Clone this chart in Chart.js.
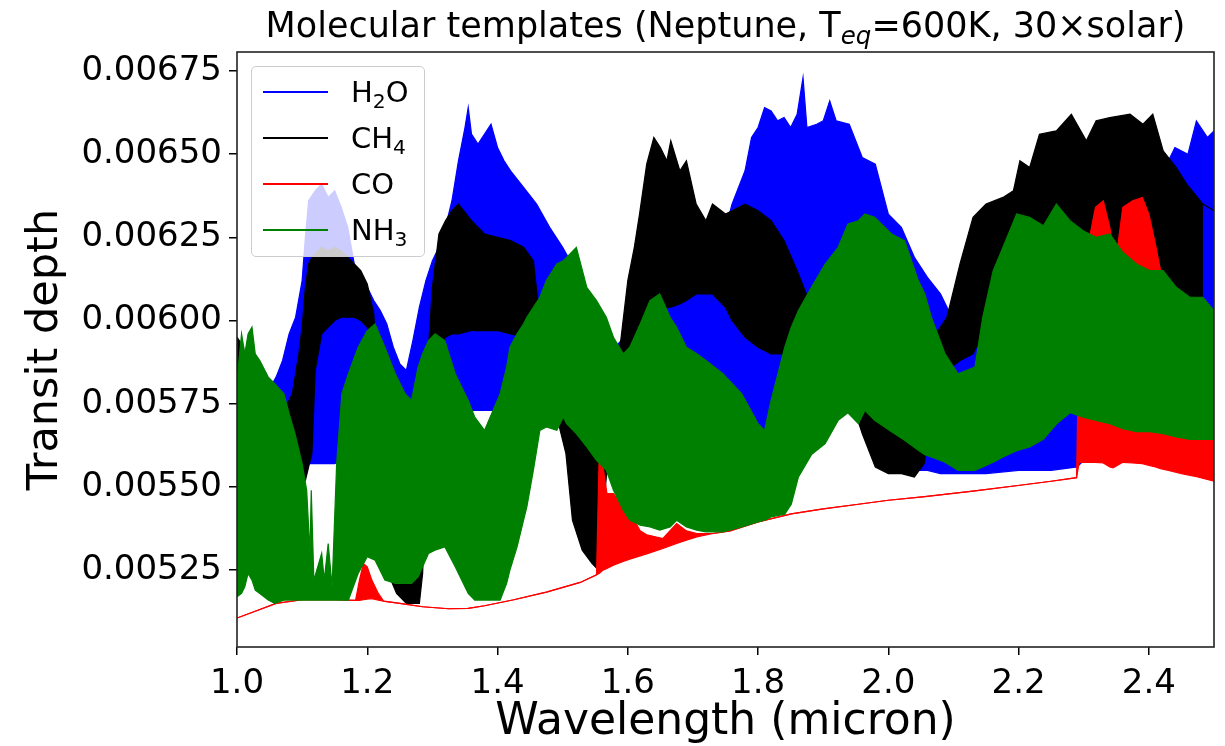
<!DOCTYPE html>
<html>
<head>
<meta charset="utf-8">
<script src="https://cdn.jsdelivr.net/npm/chart.js@4.4.1/dist/chart.umd.min.js"></script>
<style>
  html, body { margin: 0; padding: 0; background: #fff; }
  #wrap { position: relative; width: 1225px; height: 746px; overflow: hidden; font-family: 'DejaVu Sans', sans-serif; }
  #c { position: absolute; left: 0; top: 0; }
  #title { position: absolute; left: 237px; width: 977px; top: 5px; text-align: center; font-size: 35px; line-height: normal; color: #000; white-space: nowrap; }
  .sb { font-size: 0.7em; position: relative; top: 0.28em; }
  #legend { position: absolute; left: 251px; top: 66px; width: 174px; height: 191px; box-sizing: border-box;
            border: 1px solid #cccccc; border-radius: 5px; background: rgba(255,255,255,0.8); }
  .h { position: absolute; left: 11px; width: 65px; height: 2px; }
  .t { position: absolute; left: 99px; font-size: 29px; line-height: normal; color: #000; white-space: nowrap; }
</style>
</head>
<body>
<div id="wrap">
  <canvas id="c" width="1225" height="746"></canvas>
  <div id="title">Molecular templates (Neptune, T<span class="sb"><i>eq</i></span>=600K, 30×solar)</div>
  <div id="legend"></div>
</div>
<script>
// ---------------- data ----------------
const h2oWave = [1.000,1.010,1.020,1.040,1.060,1.070,1.080,1.090,1.100,1.105,1.110,1.120,1.130,1.140,1.150,1.160,1.170,1.180,1.190,1.200,1.210,1.220,1.230,1.240,1.250,1.260,1.270,1.280,1.290,1.300,1.310,1.320,1.330,1.340,1.350,1.355,1.360,1.370,1.380,1.390,1.400,1.410,1.420,1.440,1.460,1.480,1.500,1.520,1.540,1.560,1.580,1.600,1.620,1.660,1.700,1.720,1.740,1.760,1.780,1.790,1.800,1.810,1.820,1.830,1.840,1.850,1.860,1.869,1.875,1.890,1.900,1.910,1.920,1.940,1.960,1.980,2.000,2.020,2.040,2.060,2.080,2.100,2.150,2.200,2.250,2.290,2.300,2.320,2.340,2.360,2.400,2.430,2.440,2.460,2.473,2.490,2.500];
const h2oUpper = [0.00590,0.00585,0.00578,0.00576,0.00583,0.00588,0.00596,0.00601,0.00612,0.00625,0.00636,0.00639,0.00641,0.00637,0.00639,0.00634,0.00628,0.00617,0.00613,0.00610,0.00606,0.00603,0.00599,0.00592,0.00587,0.00585,0.00594,0.00604,0.00612,0.00618,0.00622,0.00628,0.00636,0.00648,0.00658,0.00664,0.00656,0.00653,0.00656,0.00659,0.00652,0.00648,0.00645,0.00640,0.00635,0.00628,0.00622,0.00615,0.00605,0.00598,0.00592,0.00596,0.00603,0.00607,0.00612,0.00614,0.00620,0.00635,0.00645,0.00655,0.00658,0.00664,0.00663,0.00660,0.00661,0.00658,0.00662,0.00673,0.00658,0.00659,0.00660,0.00666,0.00660,0.00659,0.00649,0.00647,0.00632,0.00628,0.00619,0.00613,0.00608,0.00600,0.00610,0.00620,0.00625,0.00630,0.00630,0.00632,0.00634,0.00636,0.00640,0.00648,0.00652,0.00650,0.00660,0.00655,0.00657];
const h2oLower = [0.00558,0.00556,0.00552,0.00550,0.00560,0.00562,0.00562,0.00560,0.00557,0.00557,0.00557,0.00557,0.00557,0.00557,0.00557,0.00558,0.00560,0.00565,0.00570,0.00575,0.00578,0.00580,0.00580,0.00580,0.00578,0.00577,0.00576,0.00575,0.00575,0.00575,0.00575,0.00575,0.00574,0.00574,0.00573,0.00573,0.00573,0.00573,0.00573,0.00573,0.00573,0.00572,0.00572,0.00570,0.00572,0.00575,0.00575,0.00575,0.00577,0.00578,0.00580,0.00580,0.00580,0.00580,0.00582,0.00582,0.00580,0.00575,0.00570,0.00566,0.00565,0.00565,0.00566,0.00568,0.00570,0.00574,0.00576,0.00577,0.00577,0.00578,0.00578,0.00578,0.00578,0.00578,0.00575,0.00565,0.00556,0.00556,0.00555,0.00555,0.00554,0.00554,0.00554,0.00555,0.00555,0.00556,0.00558,0.00560,0.00560,0.00559,0.00558,0.00558,0.00558,0.00558,0.00558,0.00558,0.00558];

const ch4Wave = [1.000,1.010,1.015,1.040,1.070,1.085,1.095,1.100,1.105,1.110,1.115,1.120,1.130,1.140,1.150,1.160,1.170,1.180,1.190,1.200,1.210,1.215,1.230,1.245,1.260,1.280,1.285,1.295,1.300,1.310,1.320,1.330,1.340,1.360,1.380,1.400,1.420,1.440,1.455,1.465,1.480,1.495,1.505,1.515,1.530,1.545,1.555,1.570,1.588,1.600,1.610,1.618,1.629,1.640,1.650,1.660,1.666,1.680,1.690,1.705,1.720,1.730,1.750,1.760,1.780,1.800,1.820,1.840,1.860,1.880,1.890,1.950,1.960,1.980,2.000,2.020,2.040,2.055,2.070,2.090,2.110,2.130,2.150,2.176,2.192,2.202,2.217,2.232,2.258,2.281,2.304,2.319,2.340,2.371,2.391,2.406,2.422,2.442,2.458,2.483,2.500];
const ch4Upper = [0.00595,0.00592,0.00572,0.00570,0.00572,0.00578,0.00590,0.00598,0.00610,0.00617,0.00619,0.00620,0.00622,0.00621,0.00622,0.00621,0.00619,0.00617,0.00615,0.00611,0.00602,0.00585,0.00560,0.00560,0.00560,0.00562,0.00570,0.00595,0.00610,0.00626,0.00630,0.00633,0.00635,0.00630,0.00626,0.00625,0.00624,0.00622,0.00618,0.00600,0.00595,0.00595,0.00592,0.00590,0.00588,0.00585,0.00585,0.00585,0.00592,0.00612,0.00622,0.00632,0.00647,0.00655,0.00652,0.00648,0.00654,0.00645,0.00648,0.00635,0.00630,0.00635,0.00632,0.00633,0.00635,0.00633,0.00630,0.00624,0.00615,0.00605,0.00598,0.00590,0.00590,0.00590,0.00590,0.00590,0.00590,0.00592,0.00595,0.00601,0.00617,0.00631,0.00635,0.00637,0.00639,0.00648,0.00646,0.00656,0.00657,0.00662,0.00654,0.00660,0.00661,0.00662,0.00659,0.00662,0.00651,0.00646,0.00641,0.00635,0.00633];
const ch4Lower = [0.00581,0.00580,0.00555,0.00545,0.00550,0.00566,0.00556,0.00552,0.00552,0.00556,0.00560,0.00585,0.00596,0.00598,0.00600,0.00601,0.00601,0.00601,0.00600,0.00598,0.00592,0.00575,0.00525,0.00518,0.00515,0.00515,0.00524,0.00580,0.00585,0.00592,0.00595,0.00596,0.00596,0.00597,0.00597,0.00597,0.00596,0.00595,0.00594,0.00590,0.00575,0.00568,0.00560,0.00540,0.00531,0.00527,0.00525,0.00560,0.00585,0.00586,0.00588,0.00590,0.00600,0.00602,0.00603,0.00604,0.00604,0.00605,0.00606,0.00608,0.00608,0.00608,0.00604,0.00600,0.00595,0.00592,0.00590,0.00590,0.00590,0.00592,0.00590,0.00572,0.00566,0.00556,0.00554,0.00554,0.00553,0.00557,0.00580,0.00585,0.00588,0.00590,0.00598,0.00600,0.00600,0.00600,0.00600,0.00600,0.00600,0.00600,0.00600,0.00600,0.00600,0.00600,0.00600,0.00600,0.00600,0.00600,0.00600,0.00600];

const coWave = [1.000,1.030,1.060,1.100,1.150,1.182,1.188,1.194,1.200,1.207,1.217,1.225,1.250,1.285,1.325,1.355,1.380,1.425,1.475,1.527,1.552,1.556,1.562,1.568,1.578,1.593,1.603,1.619,1.629,1.654,1.675,1.690,1.706,1.731,1.757,1.800,1.851,1.900,1.954,2.000,2.056,2.133,2.202,2.250,2.289,2.293,2.300,2.309,2.318,2.330,2.340,2.345,2.352,2.360,2.375,2.390,2.400,2.410,2.418,2.430,2.450,2.475,2.500];
const coUpper = [0.005106,0.005128,0.005150,0.005161,0.005161,0.005159,0.005220,0.005270,0.005260,0.005220,0.005180,0.005157,0.005150,0.005140,0.005134,0.005135,0.005143,0.005161,0.005184,0.005213,0.005236,0.005590,0.005560,0.005480,0.005480,0.005437,0.005425,0.005368,0.005356,0.005345,0.005390,0.005368,0.005360,0.005360,0.005368,0.005395,0.005419,0.005434,0.005448,0.005460,0.005471,0.005488,0.005505,0.005517,0.005528,0.006000,0.006050,0.006250,0.006340,0.006360,0.006280,0.006220,0.006220,0.006340,0.006360,0.006370,0.006320,0.006230,0.006150,0.006000,0.005920,0.005880,0.005850];
const coLower = [0.005106,0.005128,0.005150,0.005161,0.005161,0.005159,0.005159,0.005161,0.005163,0.005164,0.005160,0.005157,0.005150,0.005140,0.005134,0.005135,0.005143,0.005161,0.005184,0.005213,0.005236,0.005240,0.005250,0.005255,0.005265,0.005276,0.005283,0.005293,0.005299,0.005315,0.005330,0.005340,0.005350,0.005360,0.005368,0.005395,0.005419,0.005434,0.005448,0.005460,0.005471,0.005488,0.005505,0.005517,0.005528,0.005574,0.005574,0.005574,0.005574,0.005572,0.005560,0.005557,0.005565,0.005574,0.005572,0.005570,0.005565,0.005560,0.005555,0.005550,0.005540,0.005530,0.005517];

const nh3Wave = [1.000,1.007,1.012,1.017,1.023,1.028,1.035,1.048,1.058,1.072,1.080,1.089,1.100,1.107,1.112,1.114,1.118,1.130,1.134,1.140,1.146,1.153,1.161,1.171,1.186,1.200,1.212,1.227,1.243,1.258,1.268,1.278,1.285,1.294,1.304,1.319,1.335,1.355,1.365,1.380,1.404,1.414,1.419,1.430,1.440,1.445,1.455,1.465,1.475,1.491,1.501,1.506,1.521,1.537,1.552,1.567,1.578,1.593,1.603,1.619,1.634,1.649,1.665,1.675,1.690,1.706,1.720,1.746,1.775,1.800,1.810,1.820,1.841,1.851,1.862,1.882,1.903,1.923,1.938,1.954,1.964,1.979,2.005,2.025,2.046,2.056,2.066,2.087,2.107,2.133,2.145,2.161,2.176,2.197,2.217,2.238,2.258,2.279,2.299,2.319,2.340,2.360,2.381,2.401,2.422,2.442,2.463,2.483,2.500];
const nh3Upper = [0.00582,0.00596,0.00590,0.00596,0.00598,0.00590,0.00588,0.00583,0.00581,0.00578,0.00572,0.00566,0.00557,0.00549,0.00530,0.00549,0.00522,0.00530,0.00522,0.00533,0.00520,0.00557,0.00578,0.00584,0.00592,0.00597,0.00599,0.00592,0.00584,0.00578,0.00576,0.00586,0.00590,0.00594,0.00596,0.00594,0.00584,0.00576,0.00571,0.00567,0.00578,0.00586,0.00592,0.00596,0.00599,0.00601,0.00604,0.00607,0.00612,0.00617,0.00618,0.00619,0.00622,0.00610,0.00606,0.00601,0.00595,0.00590,0.00592,0.00599,0.00606,0.00608,0.00601,0.00598,0.00592,0.00590,0.00588,0.00584,0.00578,0.00569,0.00567,0.00576,0.00592,0.00598,0.00603,0.00610,0.00617,0.00622,0.00629,0.00630,0.00632,0.00631,0.00626,0.00624,0.00612,0.00608,0.00601,0.00590,0.00584,0.00586,0.00601,0.00615,0.00622,0.00632,0.00631,0.006285,0.00635,0.00630,0.00627,0.00625,0.00626,0.006205,0.00617,0.00615,0.00615,0.00610,0.00607,0.00607,0.00603];
const nh3Lower = [0.005170,0.005180,0.005200,0.005240,0.005220,0.005190,0.005180,0.005160,0.005150,0.005160,0.005160,0.005160,0.005160,0.005160,0.005160,0.005160,0.005160,0.005160,0.005160,0.005160,0.005160,0.005160,0.005160,0.005160,0.005240,0.005290,0.005280,0.005220,0.005210,0.005210,0.005210,0.005230,0.005260,0.005300,0.005310,0.005320,0.005260,0.005180,0.005160,0.005160,0.005160,0.005210,0.005250,0.005320,0.005400,0.005440,0.005550,0.005670,0.005680,0.005670,0.005710,0.005690,0.005660,0.005620,0.005580,0.005550,0.005490,0.005430,0.005400,0.005385,0.005380,0.005370,0.005380,0.005400,0.005380,0.005370,0.005365,0.005365,0.005380,0.005395,0.005400,0.005410,0.005418,0.005448,0.005530,0.005597,0.005630,0.005700,0.005723,0.005690,0.005730,0.005700,0.005666,0.005640,0.005610,0.005597,0.005590,0.005574,0.005550,0.005550,0.005560,0.005574,0.005590,0.005609,0.005620,0.005643,0.005689,0.005723,0.005710,0.005700,0.005690,0.005675,0.005666,0.005666,0.005660,0.005650,0.005643,0.005643,0.005643];

const seriesNames = ['H₂O', 'CH₄', 'CO', 'NH₃'];
const seriesLegendHtml = ['H<span class="sb">2</span>O', 'CH<span class="sb">4</span>', 'CO', 'NH<span class="sb">3</span>'];
const seriesColors = ['#0000ff', '#000000', '#ff0000', '#008000'];

const xTickValues = [1.0, 1.2, 1.4, 1.6, 1.8, 2.0, 2.2, 2.4];
const xTickLabels = ['1.0', '1.2', '1.4', '1.6', '1.8', '2.0', '2.2', '2.4'];
const yTickValues = [0.00525, 0.00550, 0.00575, 0.00600, 0.00625, 0.00650, 0.00675];
const yTickLabels = ['0.00525', '0.00550', '0.00575', '0.00600', '0.00625', '0.00650', '0.00675'];

// ---------------- chart ----------------
Chart.defaults.font.family = "'DejaVu Sans', sans-serif";
Chart.defaults.color = '#000';

function pts(w, v) { return w.map((x, i) => ({ x: x, y: v[i] })); }

const bands = [
  [h2oWave, h2oUpper, h2oLower],
  [ch4Wave, ch4Upper, ch4Lower],
  [coWave, coUpper, coLower],
  [nh3Wave, nh3Upper, nh3Lower]
];

const datasets = [];
bands.forEach((b, k) => {
  const col = seriesColors[k];
  const ord = 4 - k; // later series drawn on top
  datasets.push({ label: seriesNames[k], data: pts(b[0], b[1]), borderColor: col, backgroundColor: col,
    borderWidth: 1.2, pointRadius: 0, fill: false, order: ord });
  datasets.push({ label: seriesNames[k] + ' (lower)', data: pts(b[0], b[2]), borderColor: col, backgroundColor: col,
    borderWidth: 1.2, pointRadius: 0, fill: '-1', order: ord });
});

const frame = {
  id: 'frame',
  afterDatasetsDraw(chart) {
    const a = chart.chartArea, ctx = chart.ctx;
    ctx.save();
    ctx.strokeStyle = '#222';
    ctx.lineWidth = 1.6;
    ctx.strokeRect(a.left, a.top, a.right - a.left, a.bottom - a.top);
    ctx.restore();
  }
};

new Chart(document.getElementById('c'), {
  type: 'line',
  data: { datasets: datasets },
  options: {
    responsive: false,
    animation: false,
    devicePixelRatio: 1,
    layout: { padding: { top: 52, right: 11, left: 0, bottom: 0 } },
    plugins: { legend: { display: false }, tooltip: { enabled: false }, title: { display: false } },
    scales: {
      x: {
        type: 'linear', min: 1.0, max: 2.5,
        afterBuildTicks: s => { s.ticks = xTickValues.map(v => ({ value: v })); },
        afterFit: s => { s.height = 99; },
        ticks: { autoSkip: false, maxRotation: 0, padding: 9, font: { size: 34 }, color: '#000',
                 callback: v => { const i = xTickValues.findIndex(t => Math.abs(t - v) < 1e-9); return i >= 0 ? xTickLabels[i] : ''; } },
        grid: { display: true, drawOnChartArea: false, drawTicks: true, tickLength: 8, color: '#000', lineWidth: 1.5 },
        border: { display: false },
        title: { display: true, text: 'Wavelength (micron)', font: { size: 44 }, color: '#000', padding: { top: 0, bottom: -3 } }
      },
      y: {
        type: 'linear', min: 0.005019, max: 0.006807,
        afterBuildTicks: s => { s.ticks = yTickValues.map(v => ({ value: v })); },
        afterFit: s => { s.width = 237; },
        ticks: { autoSkip: false, padding: 7, font: { size: 34 }, color: '#000',
                 callback: v => { const i = yTickValues.findIndex(t => Math.abs(t - v) < 1e-12); return i >= 0 ? yTickLabels[i] : ''; } },
        grid: { display: true, drawOnChartArea: false, drawTicks: true, tickLength: 8, color: '#000', lineWidth: 1.5 },
        border: { display: false },
        title: { display: true, text: 'Transit depth', font: { size: 43 }, color: '#000', padding: { top: 20, bottom: 0 } }
      }
    }
  },
  plugins: [frame]
});

// ---------------- legend (HTML, drawn over the plot like the reference) ----------------
const leg = document.getElementById('legend');
const rowCenters = [25, 71, 117, 163];
seriesLegendHtml.forEach((html, k) => {
  const h = document.createElement('div');
  h.className = 'h';
  h.style.top = (rowCenters[k] - 1) + 'px';
  h.style.background = seriesColors[k];
  leg.appendChild(h);
  const t = document.createElement('div');
  t.className = 't';
  t.style.top = (rowCenters[k] - 17) + 'px';
  t.innerHTML = html;
  leg.appendChild(t);
});
</script>
</body>
</html>
